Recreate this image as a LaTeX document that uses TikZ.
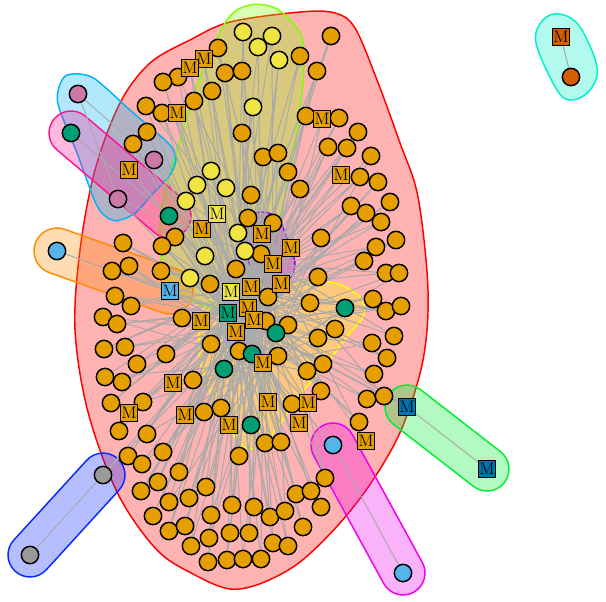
\documentclass[tikz,border=0pt]{standalone}
\usetikzlibrary{shapes.misc}
\pgfdeclarelayer{hulls}
\pgfdeclarelayer{edges}
\pgfsetlayers{hulls,edges,main}
\definecolor{cOr}{HTML}{E69F00}
\definecolor{cYe}{HTML}{F0E442}
\definecolor{cGr}{HTML}{009E73}
\definecolor{cPk}{HTML}{CC79A7}
\definecolor{cSk}{HTML}{56B4E9}
\definecolor{cBl}{HTML}{0072B2}
\definecolor{cVe}{HTML}{D55E00}
\definecolor{cGy}{HTML}{999999}
\definecolor{hRed}{HTML}{FF0000}
\definecolor{hLime}{HTML}{7FFF00}
\definecolor{hCyan}{HTML}{00B4F5}
\definecolor{hPink}{HTML}{FF1493}
\definecolor{hOrange}{HTML}{FF8C00}
\definecolor{hBlue}{HTML}{0A28FF}
\definecolor{hMag}{HTML}{EE00EE}
\definecolor{hGreen}{HTML}{00EE33}
\definecolor{hAqua}{HTML}{00F0C8}
\definecolor{hYellow}{HTML}{FFFF00}
\definecolor{hPurple}{HTML}{8A00FF}
\definecolor{lnkgray}{RGB}{170,170,170}
\begin{document}
\begin{tikzpicture}[x=0.75pt,y=-0.75pt,
  nd/.style={circle,draw=black,line width=1.1pt,minimum size=13pt,inner sep=0pt},
  msq/.style={rectangle,draw=black,line width=1pt,minimum size=12.5pt,inner sep=0pt,font=\fontsize{12.5}{12.5}\selectfont},
  lnk/.style={draw=lnkgray,line width=0.75pt},
  hullst/.style={line width=1.1pt,fill opacity=0.3},
  capsule/.style={hullst,rounded rectangle,inner sep=0pt,minimum height=33pt}]
\useasboundingbox (0,0) rectangle (606,601);

% ---------------- nodes ----------------
\foreach \i/\x/\y in {1/331/36, 6/218/48, 9/300/56, 10/317/71, 11/178/77, 12/163/82, 13/225/73, 14/242/71, 15/212/91, 16/194/101, 18/162/113, 19/146/106, 21/242/133, 22/306/116, 24/339/118, 25/358/132, 26/328/147, 27/347/148, 28/371/156, 29/263/157, 30/278/153, 31/288/172, 33/360/177, 34/378/182, 35/300/189, 39/251/195, 40/390/202, 41/351/206, 42/366/213, 43/381/222, 44/321/238, 45/396/240, 46/376/247, 47/147/132, 48/133/144, 58/248/218, 59/273/223, 63/175/237, 64/162/246, 66/261/254, 69/123/243, 71/129/266, 72/112/271, 73/161/271, 75/236/269, 76/318/277, 77/364/261, 78/386/273, 79/399/273, 84/210/284, 85/268/297, 86/310/303, 88/373/299, 89/386/311, 90/401/306, 93/182/318, 96/266/321, 97/288/325, 100/335/329, 101/318/338, 102/394/336, 103/372/343, 104/211/344, 105/166/354, 106/239/351, 108/278/356, 111/307/371, 112/323/364, 113/387/358, 114/374/374, 116/193/380, 117/115/296, 118/131/306, 119/103/317, 120/117/324, 121/104/349, 122/125/347, 123/137/364, 124/105/377, 125/122/382, 126/111/403, 127/143/402, 130/204/412, 131/221/408, 135/292/404, 137/321/391, 138/367/399, 139/384/396, 141/359/422, 144/265/443, 145/281/442, 146/239/456, 147/119/431, 148/147/434, 149/163/452, 150/128/456, 151/142/464, 152/179/472, 153/158/482, 154/141/491, 155/206/487, 156/169/502, 157/189/498, 158/153/516, 159/211/515, 160/232/505, 161/254/507, 162/270/517, 163/285/511, 164/296/494, 165/311/491, 166/325/478, 167/321/507, 168/303/527, 169/169/531, 170/185/526, 171/191/546, 172/209/538, 173/230/533, 174/249/533, 175/273/543, 176/288/546, 177/208/562, 178/227/560, 179/243/559, 180/261/559}
  \node[nd,fill=cOr] (n\i) at (\x,\y) {};
\foreach \i/\x/\y in {2/243/32, 3/272/36, 4/258/47, 5/279/60, 20/253/107, 36/211/171, 37/197/185, 38/226/188, 54/186/201, 60/238/233, 65/245/251, 67/205/256, 74/190/278}
  \node[nd,fill=cYe] (n\i) at (\x,\y) {};
\foreach \i/\x/\y in {52/71/133, 55/169/216, 87/345/308, 99/276/333, 107/252/354, 110/224/369, 133/251/425}
  \node[nd,fill=cGr] (n\i) at (\x,\y) {};
\foreach \i/\x/\y in {49/78/94, 50/154/160, 51/118/199}
  \node[nd,fill=cPk] (n\i) at (\x,\y) {};
\foreach \i/\x/\y in {70/57/251, 143/333/445, 183/403/573}
  \node[nd,fill=cSk] (n\i) at (\x,\y) {};
\foreach \i/\x/\y in {181/103/475, 182/30/555}
  \node[nd,fill=cGy] (n\i) at (\x,\y) {};
\node[nd,fill=cVe] (n187) at (571,77) {};
\foreach \i/\x/\y in {7/204/59, 8/190/68, 17/177/113, 23/322/119, 32/341/175, 53/129/170, 57/202/229, 61/262/234, 62/291/248, 68/273/264, 80/281/284, 81/251/287, 91/248/308, 94/201/321, 95/254/320, 98/236/332, 109/263/363, 115/173/383, 128/129/413, 129/185/415, 132/229/425, 134/268/402, 136/308/403, 140/299/423, 142/366/441}
  \node[msq,fill=cOr] (n\i) at (\x,\y) {M};
\foreach \i/\x/\y in {56/217/214, 83/231/292}
  \node[msq,fill=cYe] (n\i) at (\x,\y) {M};
\node[msq,fill=cGr] (n92) at (228,313) {M};
\node[msq,fill=cSk] (n82) at (170,291) {M};
\node[msq,fill=cBl] (n184) at (407,407) {M};
\node[msq,fill=cBl] (n185) at (487,469) {M};
\node[msq,fill=cVe] (n186) at (561,37) {M};

% ---------------- hulls ----------------
\begin{pgfonlayer}{hulls}
\draw[hullst,draw=hRed,fill=hRed] plot[smooth cycle,tension=0.55] coordinates {(75,330) (80,250) (95,170) (120,103) (150,63) (190,40) (230,22) (300,12) (335,13) (355,28) (377,80) (400,143) (418,197) (428,290) (423,360) (402,428) (373,480) (340,523) (300,562) (262,583) (230,589) (195,575) (157,550) (118,494) (88,412)};
\draw[hullst,draw=hLime,fill=hLime] plot[smooth cycle,tension=0.55] coordinates {(250,5) (277,9) (300,33) (304,67) (297,133) (285,197) (272,250) (255,300) (230,312) (195,302) (170,285) (160,250) (163,200) (180,140) (200,77) (227,20)};
\draw[hullst,draw=hYellow,fill=hYellow] plot[smooth cycle,tension=0.55] coordinates {(210,300) (250,290) (300,282) (335,283) (360,297) (364,315) (350,333) (327,363) (300,395) (283,420) (262,445) (245,448) (232,433) (212,395) (200,360) (200,325)};
\node[capsule,draw=hPurple,fill=hPurple,minimum width=57pt,rotate=-69.9] (hpurple) at (267.5,249) {};
\draw[hullst,draw=hCyan,fill=hCyan] plot[smooth cycle,tension=0.45] coordinates {(57.5,101.8) (65.4,75.9) (92.4,77.4) (130.4,110.4) (168.4,143.4) (176,158.8) (170.2,174.9) (152.2,194.4) (134.2,213.9) (113.8,220.6) (97.5,206.8) (77.5,154.3)};
\node[capsule,draw=hPink,fill=hPink,minimum width=129.3pt,rotate=-40.3] (hpink) at (120,174.5) {};
\node[capsule,draw=hOrange,fill=hOrange,minimum width=124.4pt,minimum height=34.5pt,rotate=-19.5] (horange) at (113.5,271) {};
\node[capsule,draw=hBlue,fill=hBlue,minimum width=114.2pt,rotate=47.6] (hblue) at (66.5,515) {};
\node[capsule,draw=hMag,fill=hMag,minimum width=142.4pt,rotate=-61.3] (hmag) at (368,509) {};
\node[capsule,draw=hGreen,fill=hGreen,minimum width=108.9pt,rotate=-37.8] (hgreen) at (447,438) {};
\draw[hullst,draw=hAqua,fill=hAqua] plot[smooth cycle,tension=0.6] coordinates {(560,14) (580,27) (597,67) (590,90) (572,100) (557,90) (536,43) (543,20)};
\end{pgfonlayer}

% ---------------- edges ----------------
\newcommand\hubedges[2]{%
  \foreach \i in {#1,...,#2}{%
    \pgfmathtruncatemacro\ha{{91,81,98,92,83,95,68,109}[mod(\i,8)]}%
    \pgfmathtruncatemacro\hb{{91,81,98,92,83,95,68,109}[mod(\i+3,8)]}%
    \draw[lnk] (n\i) -- (n\ha) (n\i) -- (n\hb);
  }}
\begin{pgfonlayer}{edges}
\hubedges{1}{48}
\hubedges{50}{51}
\hubedges{53}{67}
\hubedges{69}{69}
\hubedges{71}{80}
\hubedges{82}{82}
\hubedges{84}{90}
\hubedges{93}{94}
\hubedges{96}{97}
\hubedges{99}{108}
\hubedges{110}{180}
\hubedges{181}{181}
\hubedges{184}{184}
\foreach \a/\b in {91/81, 91/98, 91/92, 91/83, 91/95, 81/83, 81/68, 95/109, 98/92, 98/109, 83/92, 95/68,
  49/50, 49/51, 52/55, 70/82, 181/182, 143/183, 184/185, 186/187}
  \draw[lnk] (n\a) -- (n\b);
\end{pgfonlayer}
\end{tikzpicture}
\end{document}
